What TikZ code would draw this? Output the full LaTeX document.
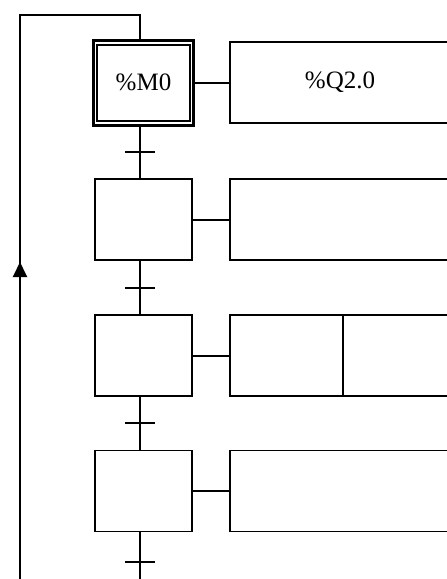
\documentclass[tikz,border=0pt]{standalone}
\usepackage{fontspec}
\setmainfont{Liberation Serif}
\usetikzlibrary{arrows.meta, positioning, calc}
\tikzset{
  etape/.style    = {draw, line width=1.8pt, minimum width=97pt, minimum height=81pt,
                     inner sep=0pt, outer sep=0pt, font=\fontsize{25}{29}\selectfont},
  initetape/.style= {etape, line width=2pt, minimum width=93pt, minimum height=76pt},
  initframe/.style= {draw, line width=3.3pt, minimum width=100pt, minimum height=85pt,
                     inner sep=0pt, outer sep=0pt},
  action/.style   = {draw, line width=1.8pt, minimum width=220pt, minimum height=81pt,
                     inner sep=0pt, outer sep=0pt, font=\fontsize{25}{29}\selectfont},
  link/.style     = {line width=2pt},
}
\begin{document}
\begin{tikzpicture}[x=1pt, y=-1pt]
\useasboundingbox (0,0) rectangle (447,579);
\clip (0,0) rectangle (447,579);

% steps
\node[initframe] (f0) at (143.5,82.7) {};
\node[initetape] (e0) at (143.5,82.7) {\%M0};
\node[etape] (e1) at (143.5,219.5) {};
\node[etape] (e2) at (143.5,355.5) {};
\node[etape] (e3) at (143.5,491) {};

% actions
\node[action] (a0) at (340,82.7) {\%Q2.0};
\node[action] (a1) at (340,219.5) {};
\node[action, minimum width=113pt] (a2) at (286.5,355.5) {};
\node[action, minimum width=107pt, right=0pt of a2] (a2b) {};
\node[action] (a3) at (340,491) {};

\draw[link] (f0.east) -- (a0.west);
\draw[link] (e1.east) -- (a1.west);
\draw[link] (e2.east) -- (a2.west);
\draw[link] (e3.east) -- (a3.west);

% transitions
\foreach \a/\b in {f0/e1, e1/e2, e2/e3} {
  \draw[link] (140,0 |- \a.south) -- (140,0 |- \b.north);
  \draw[link] ($(140,0 |- \a.south)!0.5!(140,0 |- \b.north)$) ++(-15,0) -- ++(30,0);
}
\draw[link] (125,562) -- (155,562);

% loop back to the initial step
\coordinate (bot) at (20,600);
\coordinate (top) at (20,15);
\coordinate (tip) at (20,262);
\draw[link] (140,0 |- e3.south) -- (140,600) -- (bot) -- (top) -- (140,15) -- (140,0 |- f0.north);
\draw[link, -{Triangle[length=15pt, width=14pt]}] (bot) -- (tip);

\end{tikzpicture}
\end{document}
